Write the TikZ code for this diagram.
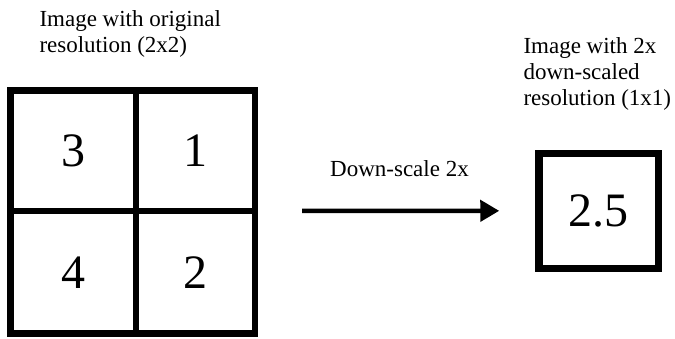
\documentclass[tikz,border=0pt]{standalone}
\usepackage{fontspec}
\setmainfont{Liberation Serif}
\usetikzlibrary{arrows.meta}
\begin{document}
\begin{tikzpicture}[x=1pt,y=-1pt,
  cell/.style={draw=black,line width=6.5pt,inner sep=0pt,outer sep=0pt,
    font=\fontsize{48}{56}\selectfont},
  outbox/.style={draw=black,line width=7.5pt,inner sep=0pt,outer sep=0pt,
    minimum width=119.5pt,minimum height=115pt,font=\fontsize{48}{56}\selectfont},
  lbl/.style={font=\fontsize{23}{26}\selectfont,align=left,inner sep=0pt,anchor=base west},
  bigarrow/.style={line width=4.5pt,-{Triangle[length=19pt,width=21pt]}}
]
\useasboundingbox[fill=white] (0,0) rectangle (675,338);
\node[cell,minimum width=125.3pt,minimum height=120.3pt] (c11) at (73.35,150.85) {3};
\node[cell,minimum width=119pt,minimum height=120.3pt] (c12) at (195.5,150.85) {1};
\node[cell,minimum width=125.3pt,minimum height=122.5pt] (c21) at (73.35,272.25) {4};
\node[cell,minimum width=119pt,minimum height=122.5pt] (c22) at (195.5,272.25) {2};
\node[outbox] (box) at (598.5,210.8) {2.5};
\node[lbl] (l1) at (39.3,52) {Image with original\\resolution (2x2)};
\node[lbl] (l2) at (523.3,105) {Image with 2x\\down-scaled\\resolution (1x1)};
\node[lbl] (l3) at (330,176.7) {Down-scale 2x};
\draw[bigarrow,shorten <=47pt,shorten >=39.5pt] (c12.south east) -- (box.west);
\end{tikzpicture}
\end{document}
